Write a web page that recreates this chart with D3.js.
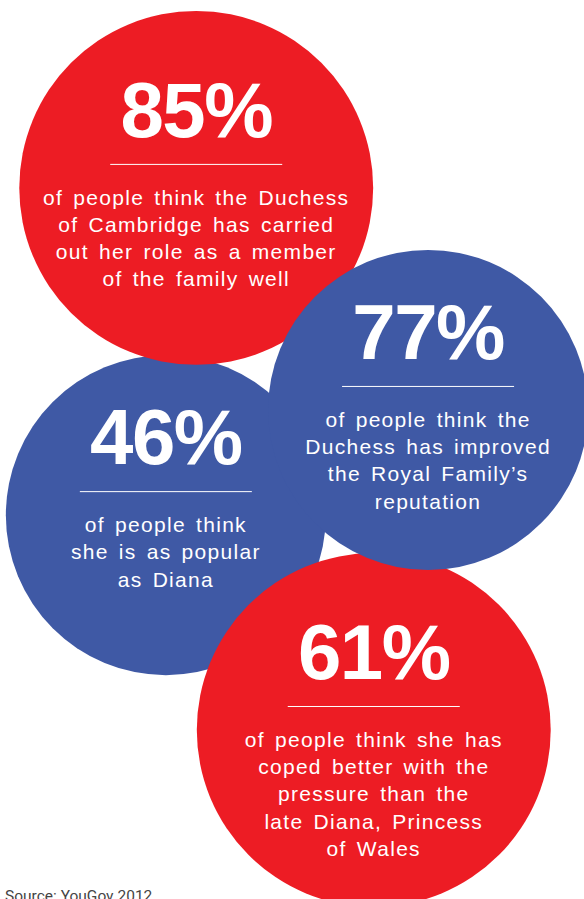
<!DOCTYPE html>
<html>
<head>
<meta charset="utf-8">
<script src="https://cdn.jsdelivr.net/npm/d3@7"></script>
<style>
  html, body { margin: 0; padding: 0; background: #ffffff; }
  svg { display: block; }
</style>
</head>
<body>
<svg id="chart" width="584" height="899"></svg>
<script>
// Survey findings (YouGov 2012)
const percents = [85, 77, 46, 61];
const descriptions = [
  ["of people think the Duchess", "of Cambridge has carried", "out her role as a member", "of the family well"],
  ["of people think the", "Duchess has improved", "the Royal Family\u2019s", "reputation"],
  ["of people think", "she is as popular", "as Diana"],
  ["of people think she has", "coped better with the", "pressure than the", "late Diana, Princess", "of Wales"]
];
const bubbleColors = ["red", "blue", "blue", "red"];
const sourceNote = "Source: YouGov 2012";

// Bubble placement on a unit grid (fraction of canvas width / height) and radius share
const bubbleX = [0.336, 0.733, 0.284, 0.640];
const bubbleY = [0.209, 0.456, 0.573, 0.812];
const bubbleR = [0.303, 0.274, 0.274, 0.303];
// Paint order: lower bubbles first, the right blue one on top
const paintOrder = [2, 0, 3, 1];

const W = 584, H = 899;
const svg = d3.select("#chart");

const x = d3.scaleLinear().domain([0, 1]).range([0, W]);
const y = d3.scaleLinear().domain([0, 1]).range([0, H]);
const rScale = d3.scaleLinear().domain([0, 1]).range([0, W]);
const color = d3.scaleOrdinal().domain(["red", "blue"]).range(["#ED1C24", "#3F59A5"]);

const items = paintOrder.map(i => ({
  value: percents[i],
  lines: descriptions[i],
  tone: bubbleColors[i],
  cx: x(bubbleX[i]),
  cy: y(bubbleY[i]),
  r: rScale(bubbleR[i])
}));

const g = svg.selectAll("g.bubble")
  .data(items)
  .join("g")
  .attr("class", "bubble")
  .attr("transform", d => `translate(${d.cx},${d.cy})`);

g.append("circle")
  .attr("r", d => d.r)
  .attr("fill", d => color(d.tone));

g.append("text")
  .attr("x", 0)
  .attr("y", -51)
  .attr("text-anchor", "middle")
  .attr("fill", "#ffffff")
  .style("font-family", "'Liberation Sans', Arial, sans-serif")
  .style("font-weight", "bold")
  .style("font-size", "78px")
  .style("letter-spacing", "-1.5px")
  .text(d => d.value + "%");

g.append("line")
  .attr("x1", -86).attr("x2", 86)
  .attr("y1", -23.5).attr("y2", -23.5)
  .attr("stroke", "#ffffff")
  .attr("stroke-width", 1);

g.append("text")
  .attr("text-anchor", "middle")
  .attr("fill", "#ffffff")
  .style("font-family", "'Liberation Sans', Arial, sans-serif")
  .style("font-size", "21px")
  .style("letter-spacing", "1.3px")
  .style("word-spacing", "3px")
  .selectAll("tspan")
  .data(d => d.lines)
  .join("tspan")
  .attr("x", 0)
  .attr("y", (d, i) => 17 + i * 27.2)
  .text(d => d);

svg.append("text")
  .attr("x", 5)
  .attr("y", 900.5)
  .attr("fill", "#444444")
  .style("font-family", "Roboto, 'Liberation Sans', Arial, sans-serif")
  .style("font-size", "15.5px")
  .text(sourceNote);
</script>
</body>
</html>
